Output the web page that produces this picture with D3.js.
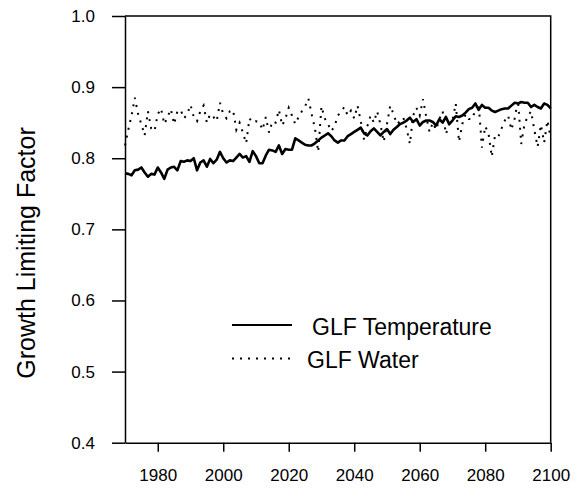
<!DOCTYPE html>
<html>
<head>
<meta charset="utf-8">
<script src="https://cdn.jsdelivr.net/npm/d3@7/dist/d3.min.js"></script>
<style>
  html, body { margin: 0; padding: 0; background: #fff; }
  svg { display: block; font-family: "Liberation Sans", Arial, sans-serif; }
</style>
</head>
<body>
<svg id="chart" width="579" height="489"></svg>
<script>
// Annual growth limiting factors, 1970-2100
const years = d3.range(1970, 2101);

const glfTemperature = [
  0.779, 0.778, 0.776, 0.783, 0.784, 0.787, 0.780, 0.774, 0.778, 0.777,
  0.787, 0.780, 0.771, 0.784, 0.787, 0.788, 0.783, 0.796, 0.795, 0.797,
  0.796, 0.800, 0.783, 0.794, 0.797, 0.788, 0.799, 0.793, 0.798, 0.809,
  0.800, 0.794, 0.797, 0.796, 0.801, 0.806, 0.801, 0.803, 0.795, 0.810,
  0.803, 0.793, 0.793, 0.804, 0.812, 0.811, 0.809, 0.818, 0.806, 0.813,
  0.812, 0.812, 0.828, 0.825, 0.822, 0.819, 0.818, 0.818, 0.821, 0.825,
  0.829, 0.832, 0.835, 0.831, 0.825, 0.822, 0.825, 0.825, 0.831, 0.834,
  0.837, 0.840, 0.843, 0.835, 0.832, 0.838, 0.842, 0.837, 0.832, 0.837,
  0.841, 0.834, 0.840, 0.844, 0.848, 0.850, 0.853, 0.857, 0.851, 0.855,
  0.846, 0.851, 0.853, 0.853, 0.851, 0.846, 0.855, 0.850, 0.858, 0.848,
  0.853, 0.859, 0.858, 0.860, 0.864, 0.869, 0.871, 0.877, 0.868, 0.875,
  0.871, 0.871, 0.867, 0.865, 0.867, 0.869, 0.870, 0.870, 0.874, 0.878,
  0.877, 0.879, 0.878, 0.878, 0.872, 0.875, 0.872, 0.870, 0.877, 0.875,
  0.870
];

const glfWater = [
  0.818, 0.840, 0.860, 0.885, 0.862, 0.848, 0.832, 0.866, 0.842, 0.838,
  0.862, 0.870, 0.848, 0.858, 0.869, 0.848, 0.866, 0.868, 0.856, 0.862,
  0.875, 0.858, 0.852, 0.866, 0.874, 0.850, 0.862, 0.858, 0.852, 0.878,
  0.862, 0.856, 0.866, 0.868, 0.840, 0.850, 0.836, 0.821, 0.856, 0.850,
  0.852, 0.851, 0.840, 0.858, 0.836, 0.852, 0.850, 0.868, 0.846, 0.856,
  0.871, 0.860, 0.848, 0.858, 0.866, 0.873, 0.884, 0.862, 0.842, 0.809,
  0.873, 0.856, 0.848, 0.838, 0.845, 0.860, 0.866, 0.872, 0.860, 0.867,
  0.856, 0.874, 0.852, 0.826, 0.845, 0.860, 0.850, 0.866, 0.848, 0.823,
  0.848, 0.874, 0.862, 0.848, 0.852, 0.857, 0.842, 0.820, 0.860, 0.871,
  0.860, 0.883, 0.858, 0.837, 0.850, 0.840, 0.855, 0.866, 0.834, 0.848,
  0.853, 0.877, 0.823, 0.848, 0.862, 0.855, 0.855, 0.868, 0.877, 0.815,
  0.845, 0.835, 0.802, 0.832, 0.830, 0.842, 0.853, 0.860, 0.840, 0.856,
  0.882, 0.820, 0.848, 0.859, 0.866, 0.840, 0.816, 0.847, 0.822, 0.853,
  0.828
];

const xTicks = [1980, 2000, 2020, 2040, 2060, 2080, 2100];
const yTicks = [0.4, 0.5, 0.6, 0.7, 0.8, 0.9, 1.0];

const seriesNames = ["GLF Temperature", "GLF Water"];
const yTitle = "Growth Limiting Factor";

const svg = d3.select("#chart");
const margin = { left: 125, right: 28.3, top: 16, bottom: 46.3 };
const W = 579, H = 489;
const x0 = margin.left, x1 = W - margin.right;
const y0 = H - margin.bottom, y1 = margin.top;

const x = d3.scaleLinear().domain([1970, 2100]).range([x0, x1]);
const y = d3.scaleLinear().domain([0.4, 1.0]).range([y0, y1]);

// Plot frame: top and right edges
svg.append("path")
  .attr("d", `M${x0},${y1}H${x1}V${y0}`)
  .attr("fill", "none").attr("stroke", "#000").attr("stroke-width", 1.5);

// Left axis
const yAxis = svg.append("g")
  .attr("transform", `translate(${x0},0)`)
  .call(d3.axisLeft(y).tickValues(yTicks).tickFormat(d3.format(".1f"))
    .tickSize(13).tickSizeOuter(0).tickPadding(17));

// Bottom axis
const xAxis = svg.append("g")
  .attr("transform", `translate(0,${y0})`)
  .call(d3.axisBottom(x).tickValues(xTicks).tickFormat(d3.format("d"))
    .tickSize(9).tickSizeOuter(0).tickPadding(17));

[yAxis, xAxis].forEach(g => {
  g.select(".domain").attr("stroke", "#000").attr("stroke-width", 1.5);
  g.selectAll(".tick line").attr("stroke", "#000").attr("stroke-width", 1.5);
  g.selectAll(".tick text").attr("fill", "#000")
    .style("font-family", '"Liberation Sans", Arial, sans-serif')
    .style("font-size", "17px");
});

// Y axis title
svg.append("text")
  .attr("transform", `translate(35,253) rotate(-90)`)
  .attr("text-anchor", "middle")
  .style("font-size", "25px")
  .attr("fill", "#000")
  .text(yTitle);

const line = d3.line().x((d, i) => x(years[i])).y(d => y(d));

// Water (dotted)
svg.append("path")
  .datum(glfWater)
  .attr("d", line)
  .attr("fill", "none")
  .attr("stroke", "#000")
  .attr("stroke-width", 2)
  .attr("stroke-dasharray", "2 6");

// Temperature (solid)
svg.append("path")
  .datum(glfTemperature)
  .attr("d", line)
  .attr("fill", "none")
  .attr("stroke", "#000")
  .attr("stroke-width", 2.6)
  .attr("stroke-linejoin", "round");

// Legend
const legend = svg.append("g");
const legendRows = [
  { name: seriesNames[0], ly: 325, tx: 312, dash: null, width: 2.2 },
  { name: seriesNames[1], ly: 358.5, tx: 307, dash: "2 6", width: 2 }
];
legendRows.forEach(r => {
  legend.append("line")
    .attr("x1", 232).attr("x2", r.dash ? 290 : 292)
    .attr("y1", r.ly).attr("y2", r.ly)
    .attr("stroke", "#000").attr("stroke-width", r.width)
    .attr("stroke-dasharray", r.dash);
  legend.append("text")
    .attr("x", r.tx).attr("y", r.ly + 9.5)
    .style("font-size", "23px")
    .attr("fill", "#000")
    .text(r.name);
});
</script>
</body>
</html>
